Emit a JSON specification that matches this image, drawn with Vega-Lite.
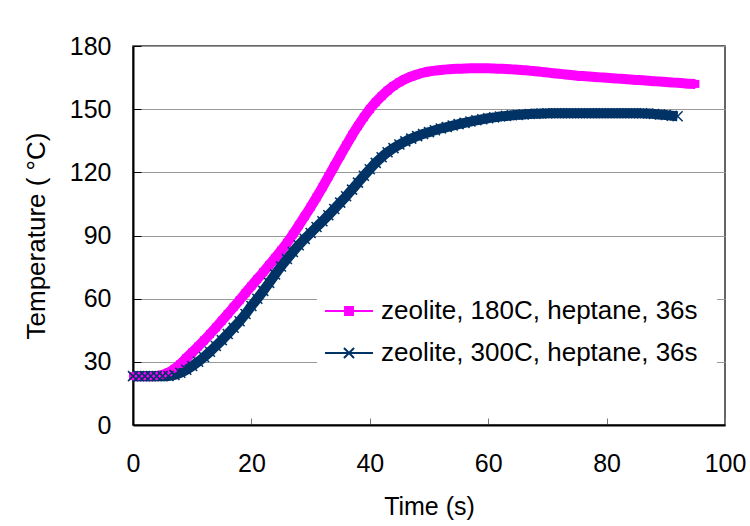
{
  "$schema": "https://vega.github.io/schema/vega-lite/v6.json",
  "autosize": "none",
  "width": 592,
  "height": 379,
  "padding": {"left": 133, "top": 46, "right": 25, "bottom": 101},
  "background": "white",
  "config": {
    "font": "Liberation Sans",
    "view": {"stroke": "#333", "strokeWidth": 1.5},
    "axis": {"labelFont": "Liberation Sans", "titleFont": "Liberation Sans", "labelColor": "#000", "titleColor": "#000", "titleFontWeight": "normal"}
  },
  "data": {
    "values": [
      {"t":0,"T":23.2,"s":"180C"},{"t":1,"T":23.2,"s":"180C"},{"t":2,"T":23.2,"s":"180C"},{"t":3,"T":23.2,"s":"180C"},{"t":4,"T":23.3,"s":"180C"},{"t":5,"T":23.8,"s":"180C"},{"t":6,"T":25,"s":"180C"},{"t":7,"T":26.7,"s":"180C"},{"t":8,"T":29,"s":"180C"},{"t":9,"T":31.8,"s":"180C"},
      {"t":10,"T":34.5,"s":"180C"},{"t":11,"T":37.3,"s":"180C"},{"t":12,"T":40.2,"s":"180C"},{"t":13,"T":43.2,"s":"180C"},{"t":14,"T":46.3,"s":"180C"},{"t":15,"T":49.5,"s":"180C"},{"t":16,"T":52.7,"s":"180C"},{"t":17,"T":56,"s":"180C"},{"t":18,"T":59.3,"s":"180C"},{"t":19,"T":62.7,"s":"180C"},
      {"t":20,"T":66,"s":"180C"},{"t":21,"T":69.3,"s":"180C"},{"t":22,"T":72.6,"s":"180C"},{"t":23,"T":76,"s":"180C"},{"t":24,"T":79.3,"s":"180C"},{"t":25,"T":82.8,"s":"180C"},{"t":26,"T":86.5,"s":"180C"},{"t":27,"T":90.5,"s":"180C"},{"t":28,"T":94.8,"s":"180C"},{"t":29,"T":99.1,"s":"180C"},
      {"t":30,"T":103.5,"s":"180C"},{"t":31,"T":108.1,"s":"180C"},{"t":32,"T":112.9,"s":"180C"},{"t":33,"T":117.9,"s":"180C"},{"t":34,"T":122.9,"s":"180C"},{"t":35,"T":127.9,"s":"180C"},{"t":36,"T":132.8,"s":"180C"},{"t":37,"T":137.6,"s":"180C"},{"t":38,"T":142,"s":"180C"},{"t":39,"T":146.2,"s":"180C"},
      {"t":40,"T":150,"s":"180C"},{"t":41,"T":153.3,"s":"180C"},{"t":42,"T":156.2,"s":"180C"},{"t":43,"T":158.8,"s":"180C"},{"t":44,"T":161,"s":"180C"},{"t":45,"T":162.8,"s":"180C"},{"t":46,"T":164.3,"s":"180C"},{"t":47,"T":165.5,"s":"180C"},{"t":48,"T":166.5,"s":"180C"},{"t":49,"T":167.3,"s":"180C"},
      {"t":50,"T":167.9,"s":"180C"},{"t":51,"T":168.3,"s":"180C"},{"t":52,"T":168.6,"s":"180C"},{"t":53,"T":168.9,"s":"180C"},{"t":54,"T":169.1,"s":"180C"},{"t":55,"T":169.2,"s":"180C"},{"t":56,"T":169.3,"s":"180C"},{"t":57,"T":169.4,"s":"180C"},{"t":58,"T":169.4,"s":"180C"},{"t":59,"T":169.4,"s":"180C"},
      {"t":60,"T":169.4,"s":"180C"},{"t":61,"T":169.3,"s":"180C"},{"t":62,"T":169.2,"s":"180C"},{"t":63,"T":169.1,"s":"180C"},{"t":64,"T":168.9,"s":"180C"},{"t":65,"T":168.7,"s":"180C"},{"t":66,"T":168.5,"s":"180C"},{"t":67,"T":168.3,"s":"180C"},{"t":68,"T":168,"s":"180C"},{"t":69,"T":167.7,"s":"180C"},
      {"t":70,"T":167.4,"s":"180C"},{"t":71,"T":167.1,"s":"180C"},{"t":72,"T":166.8,"s":"180C"},{"t":73,"T":166.5,"s":"180C"},{"t":74,"T":166.2,"s":"180C"},{"t":75,"T":165.9,"s":"180C"},{"t":76,"T":165.7,"s":"180C"},{"t":77,"T":165.5,"s":"180C"},{"t":78,"T":165.3,"s":"180C"},{"t":79,"T":165.1,"s":"180C"},
      {"t":80,"T":164.9,"s":"180C"},{"t":81,"T":164.7,"s":"180C"},{"t":82,"T":164.5,"s":"180C"},{"t":83,"T":164.3,"s":"180C"},{"t":84,"T":164.1,"s":"180C"},{"t":85,"T":163.9,"s":"180C"},{"t":86,"T":163.7,"s":"180C"},{"t":87,"T":163.5,"s":"180C"},{"t":88,"T":163.3,"s":"180C"},{"t":89,"T":163.1,"s":"180C"},
      {"t":90,"T":162.9,"s":"180C"},{"t":91,"T":162.7,"s":"180C"},{"t":92,"T":162.5,"s":"180C"},{"t":93,"T":162.3,"s":"180C"},{"t":94,"T":162.1,"s":"180C"},{"t":95,"T":162,"s":"180C"},
      {"t":0,"T":23.2,"s":"300C"},{"t":1,"T":23.2,"s":"300C"},{"t":2,"T":23.2,"s":"300C"},{"t":3,"T":23.2,"s":"300C"},{"t":4,"T":23.2,"s":"300C"},{"t":5,"T":23.2,"s":"300C"},{"t":6,"T":23.3,"s":"300C"},{"t":7,"T":23.8,"s":"300C"},{"t":8,"T":24.8,"s":"300C"},{"t":9,"T":26.2,"s":"300C"},
      {"t":10,"T":28,"s":"300C"},{"t":11,"T":30,"s":"300C"},{"t":12,"T":32.3,"s":"300C"},{"t":13,"T":34.8,"s":"300C"},{"t":14,"T":37.5,"s":"300C"},{"t":15,"T":40.3,"s":"300C"},{"t":16,"T":43.2,"s":"300C"},{"t":17,"T":46.2,"s":"300C"},{"t":18,"T":49.3,"s":"300C"},{"t":19,"T":52.7,"s":"300C"},
      {"t":20,"T":56.5,"s":"300C"},{"t":21,"T":60,"s":"300C"},{"t":22,"T":63.7,"s":"300C"},{"t":23,"T":67.5,"s":"300C"},{"t":24,"T":71.5,"s":"300C"},{"t":25,"T":75.3,"s":"300C"},{"t":26,"T":78.8,"s":"300C"},{"t":27,"T":82.2,"s":"300C"},{"t":28,"T":85.4,"s":"300C"},{"t":29,"T":88.4,"s":"300C"},
      {"t":30,"T":91.2,"s":"300C"},{"t":31,"T":94,"s":"300C"},{"t":32,"T":96.8,"s":"300C"},{"t":33,"T":99.6,"s":"300C"},{"t":34,"T":102.6,"s":"300C"},{"t":35,"T":105.6,"s":"300C"},{"t":36,"T":108.6,"s":"300C"},{"t":37,"T":111.8,"s":"300C"},{"t":38,"T":115.1,"s":"300C"},{"t":39,"T":118.4,"s":"300C"},
      {"t":40,"T":121.5,"s":"300C"},{"t":41,"T":124.5,"s":"300C"},{"t":42,"T":127.2,"s":"300C"},{"t":43,"T":129.5,"s":"300C"},{"t":44,"T":131.5,"s":"300C"},{"t":45,"T":133.2,"s":"300C"},{"t":46,"T":134.7,"s":"300C"},{"t":47,"T":136,"s":"300C"},{"t":48,"T":137.2,"s":"300C"},{"t":49,"T":138.2,"s":"300C"},
      {"t":50,"T":139.1,"s":"300C"},{"t":51,"T":140,"s":"300C"},{"t":52,"T":140.8,"s":"300C"},{"t":53,"T":141.5,"s":"300C"},{"t":54,"T":142.2,"s":"300C"},{"t":55,"T":142.9,"s":"300C"},{"t":56,"T":143.5,"s":"300C"},{"t":57,"T":144.1,"s":"300C"},{"t":58,"T":144.7,"s":"300C"},{"t":59,"T":145.2,"s":"300C"},
      {"t":60,"T":145.7,"s":"300C"},{"t":61,"T":146.1,"s":"300C"},{"t":62,"T":146.5,"s":"300C"},{"t":63,"T":146.8,"s":"300C"},{"t":64,"T":147.1,"s":"300C"},{"t":65,"T":147.3,"s":"300C"},{"t":66,"T":147.5,"s":"300C"},{"t":67,"T":147.7,"s":"300C"},{"t":68,"T":147.8,"s":"300C"},{"t":69,"T":147.9,"s":"300C"},
      {"t":70,"T":148,"s":"300C"},{"t":71,"T":148.1,"s":"300C"},{"t":72,"T":148.1,"s":"300C"},{"t":73,"T":148.1,"s":"300C"},{"t":74,"T":148.1,"s":"300C"},{"t":75,"T":148.1,"s":"300C"},{"t":76,"T":148.1,"s":"300C"},{"t":77,"T":148.1,"s":"300C"},{"t":78,"T":148.1,"s":"300C"},{"t":79,"T":148.1,"s":"300C"},
      {"t":80,"T":148.1,"s":"300C"},{"t":81,"T":148.1,"s":"300C"},{"t":82,"T":148.1,"s":"300C"},{"t":83,"T":148.1,"s":"300C"},{"t":84,"T":148.1,"s":"300C"},{"t":85,"T":148.1,"s":"300C"},{"t":86,"T":148,"s":"300C"},{"t":87,"T":147.9,"s":"300C"},{"t":88,"T":147.7,"s":"300C"},{"t":89,"T":147.5,"s":"300C"},
      {"t":90,"T":147.2,"s":"300C"},{"t":91,"T":146.9,"s":"300C"},{"t":92,"T":146.6,"s":"300C"}
    ]
  },
  "encoding": {
    "x": {
      "field": "t", "type": "quantitative",
      "scale": {"domain": [0, 100], "nice": false},
      "axis": {"title": "Time (s)", "values": [0, 20, 40, 60, 80, 100], "grid": false,
        "domainColor": "#000", "domainWidth": 2, "tickColor": "#777", "tickSize": -7, "tickWidth": 1,
        "labelFontSize": 25, "labelPadding": 33, "titleFontSize": 25, "titlePadding": 18, "labelFlush": false}
    },
    "y": {
      "field": "T", "type": "quantitative",
      "scale": {"domain": [0, 180], "nice": false},
      "axis": {"title": "Temperature ( °C)", "values": [0, 30, 60, 90, 120, 150, 180], "grid": true, "gridColor": "#999", "gridWidth": 1,
        "domainColor": "#000", "domainWidth": 2, "tickColor": "#000", "tickSize": -8, "tickWidth": 1,
        "labelFontSize": 25, "labelPadding": 30, "titleFontSize": 26, "titlePadding": 20, "labelFlush": false}
    }
  },
  "layer": [
    {
      "mark": {"type": "line", "strokeWidth": 10, "interpolate": "monotone"},
      "encoding": {
        "color": {
          "field": "s", "type": "nominal",
          "scale": {"domain": ["180C", "300C"], "range": ["#FF00FF", "#003366"]},
          "legend": {
            "title": null, "orient": "none", "legendX": 184, "legendY": 233,
            "fillColor": "white", "padding": 19, "symbolSize": 576, "labelOffset": 19,
            "labelFontSize": 26, "labelFont": "Liberation Sans", "labelColor": "#000", "labelLimit": 500, "rowPadding": 16,
            "labelExpr": "'zeolite, ' + datum.label + ', heptane, 36s'",
            "encode": {
              "symbols": {
                "update": {
                  "shape": {"signal": "datum.value === '180C' ? 'M-2,0H2M-0.33,-0.33H0.33V0.33H-0.33Z' : 'M-2,0H2M-0.42,-0.42L0.42,0.42M-0.42,0.42L0.42,-0.42'"},
                  "fill": {"signal": "datum.value === '180C' ? '#FF00FF' : 'transparent'"},
                  "stroke": {"signal": "datum.value === '180C' ? '#FF00FF' : '#003366'"},
                  "strokeWidth": {"value": 2},
                  "opacity": {"value": 1}
                }
              }
            }
          }
        }
      }
    },
    {
      "transform": [{"filter": "datum.s === '180C'"}],
      "mark": {"type": "point", "shape": "square", "filled": true, "size": 64, "color": "#FF00FF", "opacity": 1}
    },
    {
      "transform": [{"filter": "datum.s === '300C'"}],
      "mark": {"type": "point", "shape": "M-1,-1L1,1M-1,1L1,-1", "filled": false, "size": 100, "color": "#003366", "strokeWidth": 1.5, "opacity": 1}
    }
  ]
}
